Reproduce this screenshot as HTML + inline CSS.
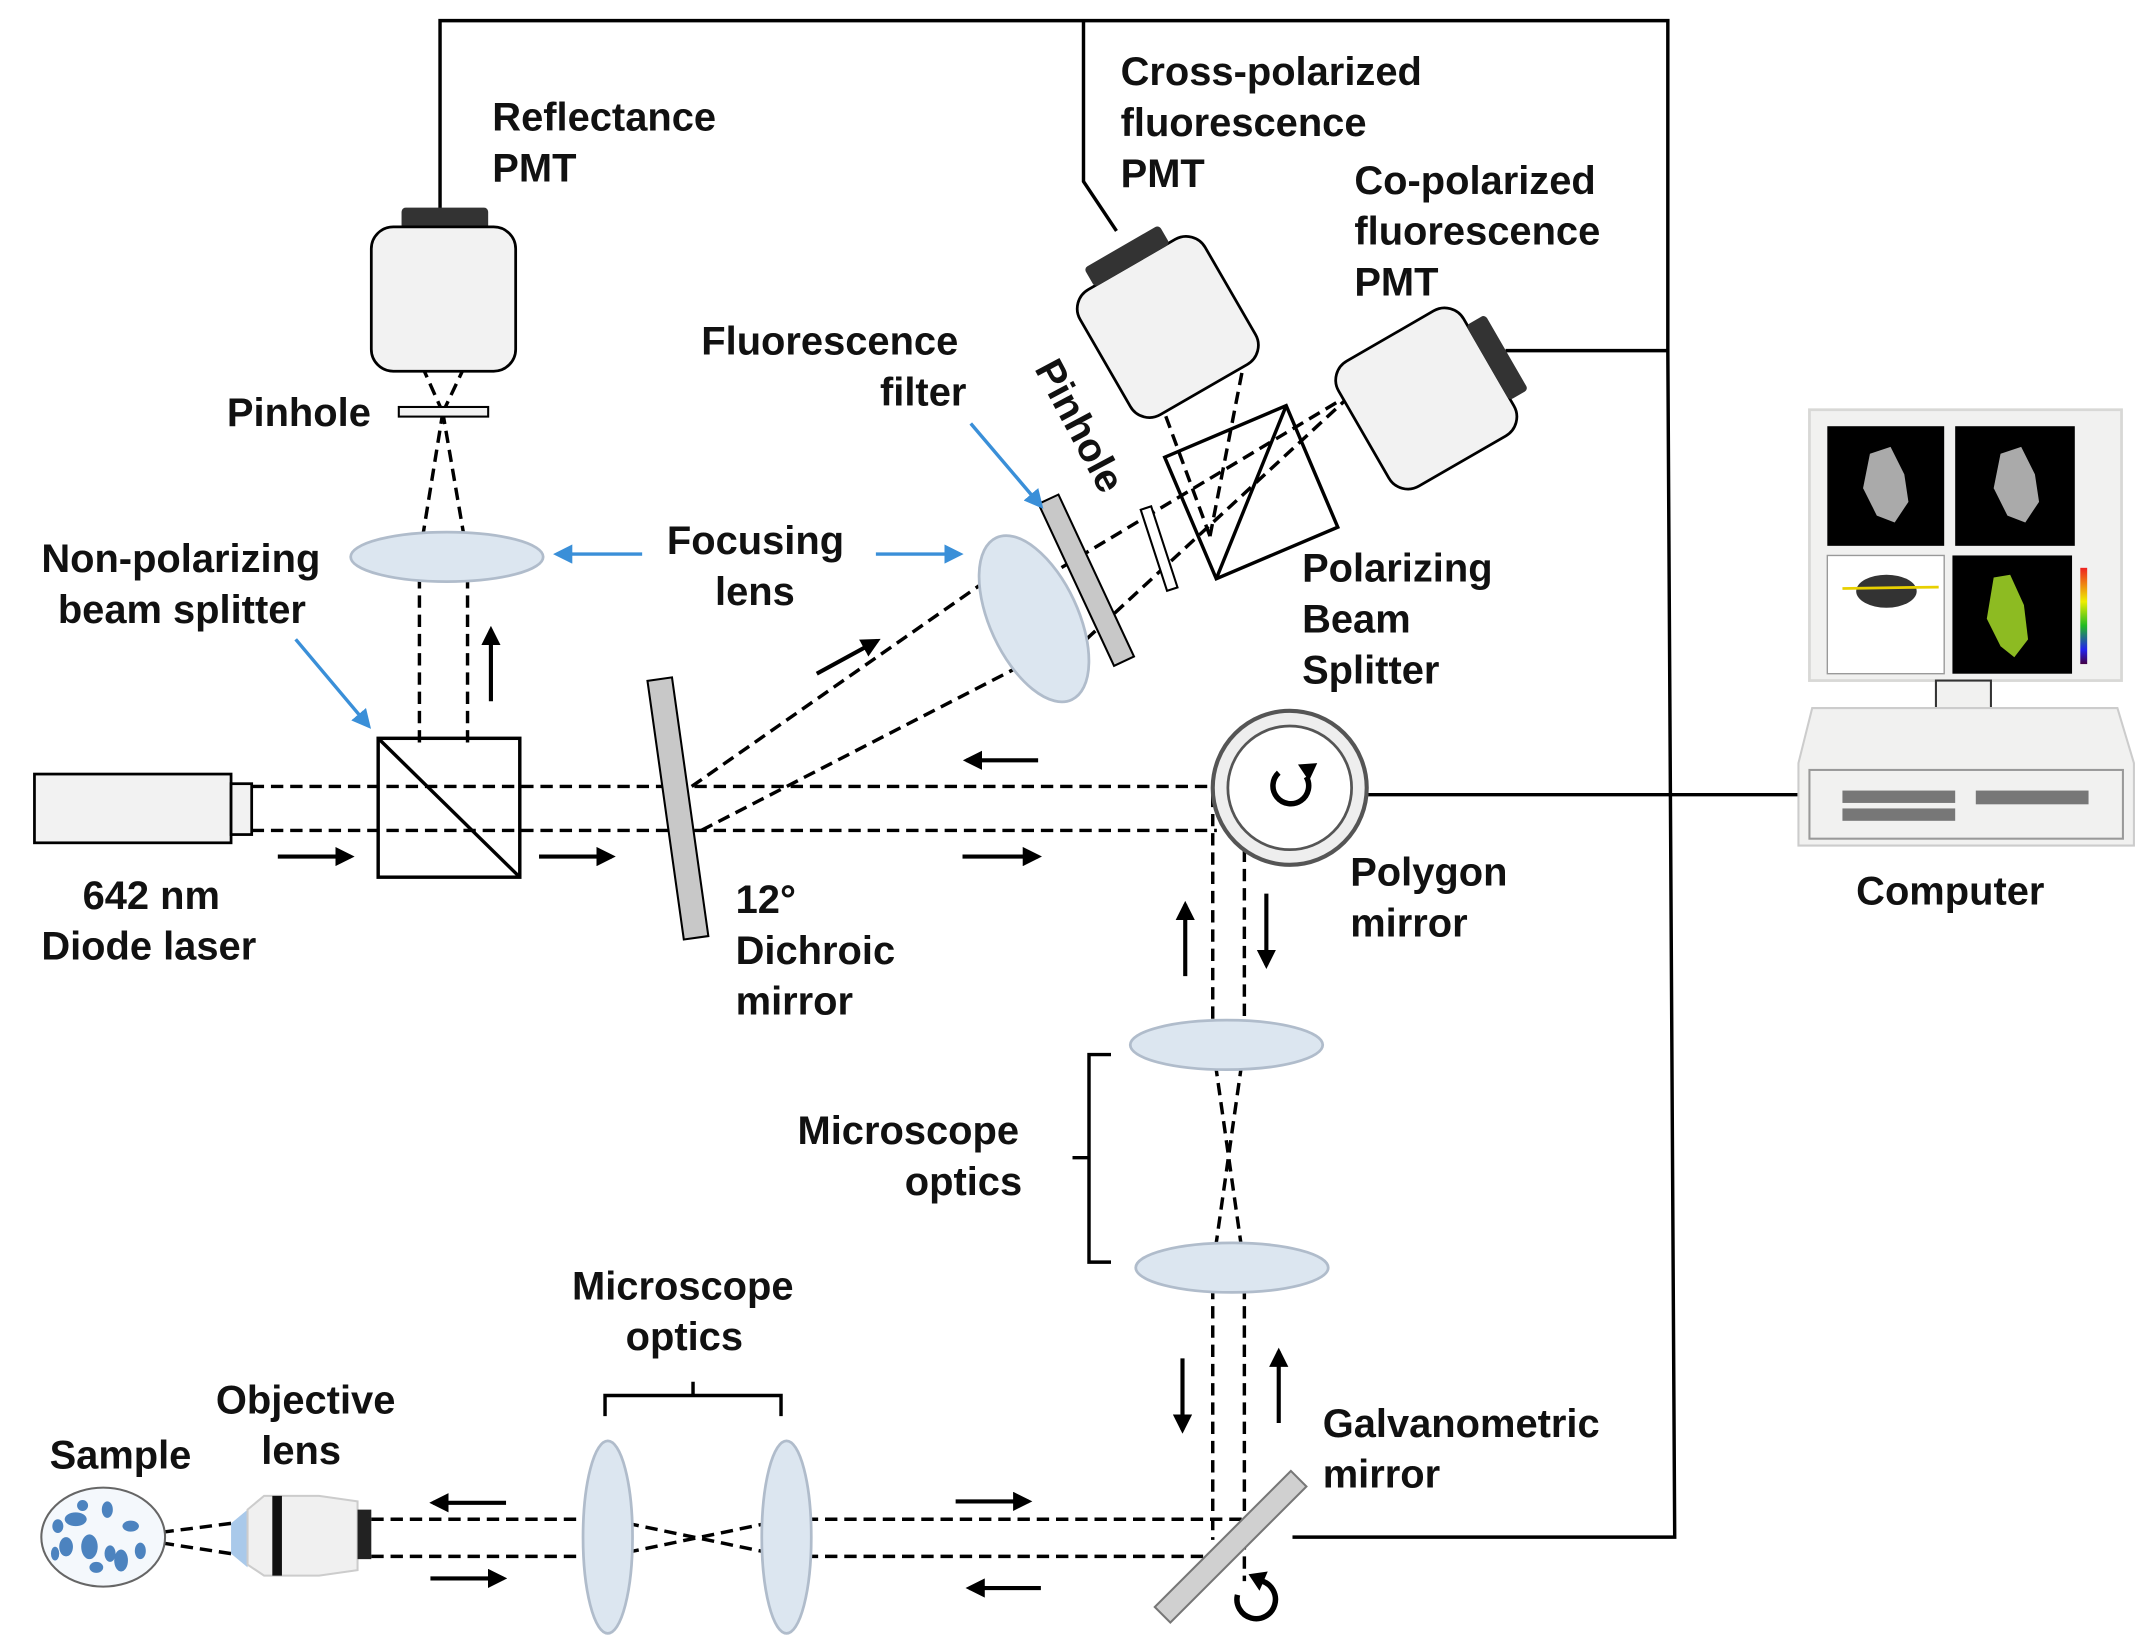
<!DOCTYPE html>
<html><head><meta charset="utf-8"><style>
html,body{margin:0;padding:0;background:#fff}
svg{display:block}
text{font-family:"Liberation Sans",Arial,sans-serif;font-weight:bold;font-size:29px;fill:#111}
</style></head><body>
<svg width="2145" height="1643" viewBox="0 0 1560 1195" xmlns="http://www.w3.org/2000/svg">
<defs>
<marker id="ab" viewBox="0 0 10 10" markerWidth="14" markerHeight="14" refX="8" refY="5" orient="auto" markerUnits="userSpaceOnUse"><path d="M0,0 L10,5 L0,10 z" fill="#3a8fd8"/></marker>
<marker id="ak" viewBox="0 0 10 10" markerWidth="14" markerHeight="14" refX="8" refY="5" orient="auto" markerUnits="userSpaceOnUse"><path d="M0,0 L10,5 L0,10 z" fill="#000"/></marker>
</defs>
<g fill="none" stroke="#000" stroke-width="2.5">
<polyline points="320,155 320,15 1213,15 1213,255 1218,1118 940,1118"/>
<line x1="1095" y1="255" x2="1213" y2="255"/>
<polyline points="788,15 788,132 812,168"/>
<line x1="995" y1="578" x2="1310" y2="578"/>
</g>
<g fill="none" stroke="#000" stroke-width="2.5" stroke-dasharray="9,5">
<line x1="183" y1="572" x2="885" y2="572"/>
<line x1="183" y1="604" x2="885" y2="604"/>
<line x1="305" y1="405" x2="305" y2="540"/>
<line x1="340" y1="405" x2="340" y2="540"/>
<line x1="305" y1="405" x2="322" y2="300"/>
<line x1="340" y1="405" x2="322" y2="300"/>
<line x1="322" y1="300" x2="305" y2="262"/>
<line x1="322" y1="300" x2="340" y2="262"/>
<line x1="503" y1="572" x2="735" y2="410"/>
<line x1="510" y1="604" x2="770" y2="470"/>
<line x1="760" y1="420" x2="985" y2="285"/>
<line x1="790" y1="465" x2="985" y2="285"/>
<line x1="880" y1="390" x2="845" y2="295"/>
<line x1="880" y1="390" x2="905" y2="262"/>
<line x1="882" y1="578" x2="882" y2="760"/>
<line x1="905" y1="590" x2="905" y2="760"/>
<line x1="882" y1="760" x2="905" y2="922"/>
<line x1="905" y1="760" x2="882" y2="922"/>
<line x1="882" y1="922" x2="882" y2="1120"/>
<line x1="905" y1="922" x2="905" y2="1150"/>
<line x1="270" y1="1105" x2="442" y2="1105"/>
<line x1="270" y1="1132" x2="442" y2="1132"/>
<line x1="442" y1="1105" x2="572" y2="1132"/>
<line x1="442" y1="1132" x2="572" y2="1105"/>
<line x1="572" y1="1105" x2="905" y2="1105"/>
<line x1="572" y1="1132" x2="882" y2="1132"/>
<line x1="168" y1="1108" x2="90" y2="1118"/>
<line x1="168" y1="1130" x2="90" y2="1118"/>
</g>
<rect x="25" y="563" width="143" height="50" fill="#f2f2f2" stroke="#000" stroke-width="2"/>
<rect x="168" y="570" width="15" height="37" fill="#f2f2f2" stroke="#000" stroke-width="2"/>
<rect x="275" y="537" width="103" height="101" fill="none" stroke="#000" stroke-width="2.5"/>
<line x1="275" y1="537" x2="378" y2="638" stroke="#000" stroke-width="2.5"/>
<rect x="292" y="151" width="63" height="16" rx="3" fill="#333"/>
<rect x="270" y="165" width="105" height="105" rx="16" fill="#f2f2f2" stroke="#000" stroke-width="2"/>
<rect x="290" y="296" width="65" height="7" fill="#f2f2f2" stroke="#000" stroke-width="1.5"/>
<g fill="#dce6f0" stroke="#b0bccb" stroke-width="2">
<ellipse cx="325" cy="405" rx="70" ry="18"/>
<ellipse cx="752" cy="450" rx="32" ry="65" transform="rotate(-25 752 450)"/>
<ellipse cx="892" cy="760" rx="70" ry="18"/>
<ellipse cx="896" cy="922" rx="70" ry="18"/>
<ellipse cx="442" cy="1118" rx="18" ry="70"/>
<ellipse cx="572" cy="1118" rx="18" ry="70"/>
</g>
<rect x="484" y="493" width="18" height="190" fill="#c8c8c8" stroke="#000" stroke-width="1.5" transform="rotate(-8 493 588)"/>
<rect x="782" y="357" width="16" height="130" fill="#c8c8c8" stroke="#000" stroke-width="1.5" transform="rotate(-25 790 422)"/>
<rect x="839" y="368" width="8" height="62" fill="#fff" stroke="#000" stroke-width="1.5" transform="rotate(-18 843 399)"/>
<g transform="rotate(-23 910 358)">
<rect x="862" y="310" width="96" height="96" fill="none" stroke="#000" stroke-width="2.5"/>
<line x1="862" y1="406" x2="958" y2="310" stroke="#000" stroke-width="2.5"/>
</g>
<g transform="rotate(-30 850 238)">
<rect x="797" y="185" width="105" height="105" rx="16" fill="#f2f2f2" stroke="#000" stroke-width="2"/>
<rect x="818" y="170" width="63" height="16" rx="3" fill="#333"/>
</g>
<g transform="rotate(-30 1038 290)">
<rect x="985" y="237" width="105" height="105" rx="16" fill="#f2f2f2" stroke="#000" stroke-width="2"/>
<rect x="1089" y="258" width="16" height="63" rx="3" fill="#333"/>
</g>
<circle cx="938" cy="573" r="56" fill="#eee" stroke="#555" stroke-width="3"/>
<circle cx="938" cy="573" r="45" fill="#fff" stroke="#555" stroke-width="2"/>
<path d="M950,565 A13,13 0 1 1 930,562" fill="none" stroke="#000" stroke-width="4"/>
<path d="M944,556 L952,568 L958,555 z" fill="#000"/>
<rect x="825" y="1117" width="140" height="16" fill="#d0d0d0" stroke="#777" stroke-width="1.5" transform="rotate(-45 895 1125)"/>
<path d="M918,1150 A14,14 0 1 1 900,1160" fill="none" stroke="#000" stroke-width="4"/>
<path d="M908,1145 L922,1143 L916,1157 z" fill="#000"/>
<path d="M168,1108 L180,1098 L180,1140 L168,1130 z" fill="#a9c9ea"/>
<path d="M180,1098 L192,1088 L232,1088 L260,1092 L260,1142 L232,1146 L192,1146 L180,1138 z" fill="#f0f0f0" stroke="#ccc" stroke-width="1.5"/>
<rect x="198" y="1088" width="7" height="58" fill="#111"/>
<rect x="260" y="1098" width="10" height="36" fill="#222"/>
<ellipse cx="75" cy="1118" rx="45" ry="36" fill="#f4f8fc" stroke="#666" stroke-width="1.5"/>
<g fill="#2f6fb5" opacity="0.85">
<ellipse cx="55" cy="1105" rx="8" ry="5"/><ellipse cx="65" cy="1125" rx="6" ry="9"/><ellipse cx="48" cy="1125" rx="5" ry="7"/>
<ellipse cx="95" cy="1110" rx="6" ry="4"/><ellipse cx="88" cy="1135" rx="5" ry="8"/><ellipse cx="102" cy="1128" rx="4" ry="6"/>
<ellipse cx="78" cy="1098" rx="4" ry="6"/><ellipse cx="70" cy="1140" rx="5" ry="4"/><ellipse cx="42" cy="1110" rx="4" ry="5"/>
<ellipse cx="60" cy="1095" rx="4" ry="4"/><ellipse cx="80" cy="1130" rx="4" ry="6"/><ellipse cx="40" cy="1130" rx="3" ry="5"/>
</g>
<path d="M440,1030 L440,1015 L568,1015 L568,1030 M504,1015 L504,1005" fill="none" stroke="#000" stroke-width="2.5"/>
<path d="M808,767 L792,767 L792,918 L808,918 M792,842 L780,842" fill="none" stroke="#000" stroke-width="2.5"/>
<g stroke="#000" stroke-width="3" marker-end="url(#ak)">
<line x1="202" y1="623" x2="255" y2="623"/>
<line x1="392" y1="623" x2="445" y2="623"/>
<line x1="700" y1="623" x2="755" y2="623"/>
<line x1="755" y1="553" x2="703" y2="553"/>
<line x1="357" y1="510" x2="357" y2="458"/>
<line x1="594" y1="490" x2="638" y2="466"/>
<line x1="862" y1="710" x2="862" y2="658"/>
<line x1="921" y1="650" x2="921" y2="702"/>
<line x1="860" y1="988" x2="860" y2="1040"/>
<line x1="930" y1="1035" x2="930" y2="983"/>
<line x1="695" y1="1092" x2="748" y2="1092"/>
<line x1="757" y1="1155" x2="705" y2="1155"/>
<line x1="368" y1="1093" x2="315" y2="1093"/>
<line x1="313" y1="1148" x2="366" y2="1148"/>
</g>
<g stroke="#3a8fd8" stroke-width="2.5" marker-end="url(#ab)">
<line x1="467" y1="403" x2="405" y2="403"/>
<line x1="637" y1="403" x2="698" y2="403"/>
<line x1="215" y1="465" x2="268" y2="528"/>
<line x1="706" y1="308" x2="757" y2="368"/>
</g>
<rect x="1316" y="298" width="227" height="197" fill="#f1f1f0" stroke="#d8d8d6" stroke-width="2"/>
<rect x="1329" y="310" width="85" height="87" fill="#000"/>
<rect x="1422" y="310" width="87" height="87" fill="#000"/>
<rect x="1329" y="404" width="85" height="86" fill="#fff" stroke="#999"/>
<rect x="1420" y="404" width="87" height="86" fill="#000"/>
<g fill="#aaa"><path d="M1360,330 L1375,325 L1385,345 L1388,365 L1378,380 L1365,375 L1355,355 z"/><path d="M1455,330 L1470,325 L1480,345 L1483,365 L1473,380 L1460,375 L1450,355 z"/></g>
<path d="M1450,420 L1462,418 L1472,440 L1475,465 L1465,478 L1455,470 L1445,450 z" fill="#8dbb22"/>
<rect x="1513" y="413" width="5" height="70" fill="url(#cb)"/>
<defs><linearGradient id="cb" x1="0" y1="0" x2="0" y2="1"><stop offset="0" stop-color="#e22"/><stop offset="0.35" stop-color="#ee0"/><stop offset="0.6" stop-color="#2b2"/><stop offset="0.85" stop-color="#22e"/><stop offset="1" stop-color="#404"/></linearGradient></defs>
<g fill="#333"><ellipse cx="1372" cy="430" rx="22" ry="12"/></g>
<line x1="1340" y1="428" x2="1410" y2="427" stroke="#e8d000" stroke-width="2"/>
<rect x="1408" y="495" width="40" height="30" fill="#f1f1f0" stroke="#333" stroke-width="1.5"/>
<rect x="1380" y="525" width="97" height="20" fill="#f1f1f0" stroke="#666" stroke-width="1.5"/>
<path d="M1318,515 L1540,515 L1552,555 L1552,615 L1308,615 L1308,555 z" fill="#f1f1f0" stroke="#ccc" stroke-width="1.5"/>
<rect x="1316" y="560" width="228" height="50" fill="#f1f1f0" stroke="#999" stroke-width="1.5"/>
<g fill="#777"><rect x="1340" y="575" width="82" height="9"/><rect x="1340" y="588" width="82" height="9"/><rect x="1437" y="575" width="82" height="10"/></g>
<text x="358" y="95">Reflectance</text>
<text x="358" y="132">PMT</text>
<text x="815" y="62">Cross-polarized</text>
<text x="815" y="99">fluorescence</text>
<text x="815" y="136">PMT</text>
<text x="985" y="141">Co-polarized</text>
<text x="985" y="178">fluorescence</text>
<text x="985" y="215">PMT</text>
<text x="510" y="258">Fluorescence</text>
<text x="640" y="295">filter</text>
<text x="165" y="310">Pinhole</text>
<text x="0" y="0" transform="translate(752,268) rotate(62)">Pinhole</text>
<text x="30" y="416">Non-polarizing</text>
<text x="42" y="453">beam splitter</text>
<text x="485" y="403">Focusing</text>
<text x="520" y="440">lens</text>
<text x="947" y="423">Polarizing</text>
<text x="947" y="460">Beam</text>
<text x="947" y="497">Splitter</text>
<text x="60" y="661">642 nm</text>
<text x="30" y="698">Diode laser</text>
<text x="535" y="664">12°</text>
<text x="535" y="701">Dichroic</text>
<text x="535" y="738">mirror</text>
<text x="982" y="644">Polygon</text>
<text x="982" y="681">mirror</text>
<text x="1350" y="658">Computer</text>
<text x="580" y="832">Microscope</text>
<text x="658" y="869">optics</text>
<text x="416" y="945">Microscope</text>
<text x="455" y="982">optics</text>
<text x="157" y="1028">Objective</text>
<text x="190" y="1065">lens</text>
<text x="36" y="1068">Sample</text>
<text x="962" y="1045">Galvanometric</text>
<text x="962" y="1082">mirror</text>
</svg>
</body></html>
